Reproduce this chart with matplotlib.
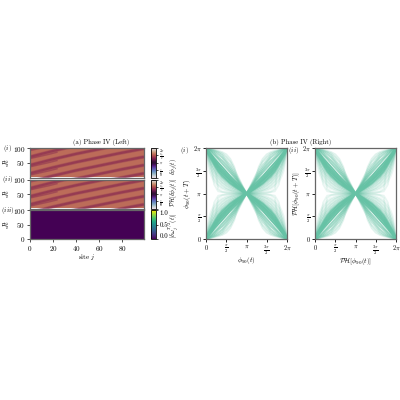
import numpy as np
import matplotlib
matplotlib.use("Agg")
import matplotlib.pyplot as plt
from matplotlib import cm
from matplotlib.colors import Normalize

plt.rcParams.update({"font.family": ["cmr10", "DejaVu Serif"], "mathtext.fontset": "cm",
                     "axes.unicode_minus": False, "axes.formatter.use_mathtext": True})

# heatmap background phase (rad), coarse table
phase_base = [[4.95, 4.95, 4.95, 4.95], [4.95, 4.95, 4.95, 4.95], [4.95, 4.95, 4.95, 4.95]]
# dark stripes: Jt at selected sites
stripe_sites = [0, 10, 20, 40, 60, 80, 99]
stripe_jt = [
    [-75, -62, -50, -32, -16, 0, 14],
    [-44, -33, -22, -4, 12, 28, 42],
    [-14, -4, 6, 24, 40, 56, 70],
    [14, 24, 34, 52, 68, 84, 98],
    [42, 52, 62, 80, 96, 112, 126],
    [70, 80, 90, 108, 124, 140, 154],
    [98, 108, 118, 136, 152, 168, 182],
]
# fine stripes near the left edge
fine_sites = [0, 8, 16, 24]
fine_jt = [
    [8, 15, 22, 30],
    [36, 43, 50, 58],
    [64, 71, 78, 86],
    [91, 98, 105, 113],
]
stripe_phase = 4.1
zero_field = [[0.0, 0.0], [0.0, 0.0]]

# return map curves on the half range, in units of pi
map_x = [0, .04, .08, .13, .2, .3, .4, .5, .6, .7, .8, .9, 1]
map_curves = [
    [0, .30, .50, .62, .74, .84, .90, .94, .96, .98, .99, .995, 1],
    [0, .10, .20, .42, .80, .95, .97, .98, .985, .99, .99, .995, 1],
    [0, .05, .10, .18, .30, .90, .96, .98, .985, .99, .99, .995, 1],
    [0, .22, .40, .54, .68, .80, .87, .91, .94, .96, .98, .99, 1],
    [0, .18, .32, .46, .60, .73, .82, .88, .92, .95, .97, .99, 1],
    [0, .14, .26, .38, .52, .66, .76, .83, .88, .92, .95, .98, 1],
    [0, .12, .22, .33, .46, .60, .70, .78, .84, .89, .93, .97, 1],
    [0, .10, .18, .27, .39, .54, .65, .73, .80, .86, .91, .96, 1],
    [0, .09, .16, .25, .36, .51, .62, .70, .78, .84, .90, .95, 1],
    [0, .08, .15, .23, .34, .48, .59, .68, .76, .83, .89, .95, 1],
    [0, .07, .13, .20, .30, .44, .55, .64, .72, .80, .87, .94, 1],
    [0, .06, .12, .18, .27, .40, .51, .61, .70, .78, .86, .93, 1],
    [0, .05, .10, .16, .25, .37, .47, .57, .66, .75, .84, .92, 1],
    [0, .04, .09, .14, .22, .32, .42, .52, .62, .71, .80, .90, 1],
    [0, .02, .05, .09, .15, .24, .34, .44, .54, .65, .77, .88, 1],
    [0, .02, .04, .07, .11, .20, .28, .38, .49, .61, .74, .87, 1],
    [0, .015, .03, .05, .08, .14, .21, .32, .44, .57, .72, .86, 1],
    [0, .01, .02, .04, .06, .10, .16, .27, .38, .53, .69, .85, 1],
    [0, .01, .015, .03, .05, .08, .12, .20, .30, .47, .65, .83, 1],
    [0, .005, .01, .02, .04, .06, .09, .14, .24, .42, .75, .94, 1],
]
map_alpha = [.12, .15, .15, .2, .28, .35, .4, .55, .75, .85, .95, .95, .95, .95, .65, .6, .5, .4, .3, .2]
teal = "#66c2a5"
frame = "#666666"


def fp(x0, y0, x1, y1):
    return [x0 / 400, 1 - y1 / 400, (x1 - x0) / 400, (y1 - y0) / 400]


fig = plt.figure(figsize=(4, 4), dpi=100)
norm = Normalize(0, 2 * np.pi)
rows = [(148, 177.5), (179.5, 208.5), (210, 239)]
tags = ["$(i)$", "$(ii)$", "$(iii)$"]
cb_labels = [r"$\delta\phi_j(t)$", r"$\mathcal{PH}[\delta\phi_j(t)]$", r"$|\delta\omega_j^{T/2}(t)|$"]
pi_ticks = [0, np.pi / 2, np.pi, 3 * np.pi / 2, 2 * np.pi]
pi_labels = ["$0$", r"$\frac{\pi}{2}$", r"$\pi$", r"$\frac{3\pi}{2}$", r"$2\pi$"]
cb_label_y = [167, 192, 225]

for k, (top, bot) in enumerate(rows):
    ax = fig.add_axes(fp(30, top, 144, bot))
    if k < 2:
        ax.imshow(phase_base, cmap="twilight", norm=norm, aspect="auto", origin="lower",
                  extent=[0, 99, 0, 100], interpolation="bilinear")
        col = cm.twilight(norm(stripe_phase))
        for jt in stripe_jt:
            ax.plot(stripe_sites, jt, color=col, lw=2.6, alpha=.3, solid_capstyle="butt")
            ax.plot(stripe_sites, jt, color=col, lw=1.6, alpha=.55, solid_capstyle="butt")
        for jt in fine_jt:
            ax.plot(fine_sites, jt, color=col, lw=1.0, alpha=.45, solid_capstyle="butt")
        im = cm.ScalarMappable(norm=norm, cmap="twilight")
    else:
        im = ax.imshow(zero_field, cmap="viridis", vmin=0, vmax=1, aspect="auto", origin="lower",
                       extent=[0, 99, 0, 100])
    ax.set_xlim(0, 99)
    ax.set_ylim(0, 100)
    ax.set_yticks([0, 50, 100] if k == 2 else [50, 100])
    ax.tick_params(labelsize=5.2, length=2, width=.6, pad=1.5, color="#333333")
    ax.set_ylabel("$Jt$", fontsize=5.5)
    ax.yaxis.set_label_coords(-(30 - 11) / 114, .5)
    if k == 2:
        ax.set_xticks([0, 20, 40, 60, 80])
        ax.set_xlabel("site $j$", fontsize=5, labelpad=-.5)
    else:
        ax.set_xticks([])
    for s in ax.spines.values():
        s.set_color(frame)
        s.set_linewidth(.9)
    fig.text(7.5 / 400, 1 - (top + .5) / 400, tags[k], fontsize=5, ha="center", va="center")
    cax = fig.add_axes(fp(151, top, 156, bot))
    cb = fig.colorbar(im, cax=cax)
    cb.outline.set_linewidth(.6)
    cb.ax.tick_params(length=1.5, width=.5, pad=1)
    if k < 2:
        cb.set_ticks(pi_ticks)
        cb.set_ticklabels(pi_labels, fontsize=2.8)
    else:
        cb.set_ticks([0, .5, 1])
        cb.set_ticklabels(["0.0", "0.5", "1.0"], fontsize=5)
    tick_texts = cb.ax.get_yticklabels()
    tick_texts[0].set_va("bottom")
    tick_texts[-1].set_va("top")
    fig.text(174 / 400, 1 - cb_label_y[k] / 400, cb_labels[k], rotation=90, fontsize=4.4,
             ha="center", va="center")

fig.text(101 / 400, 1 - 142.5 / 400, "(a) Phase IV (Left)", fontsize=4.8, ha="center", va="center")
fig.text(301 / 400, 1 - 142.5 / 400, "(b) Phase IV (Right)", fontsize=4.8, ha="center", va="center")

panels = [(206, 287, r"$\phi_{90}(t)$", r"$\phi_{90}(t+T)$", "$(i)$", 185),
          (315, 396, r"$\mathcal{PH}[\phi_{90}(t)]$", r"$\mathcal{PH}[\phi_{90}(t+T)]$", "$(ii)$", 294)]
map_x_arr = np.array(map_x)
for x0, x1, xl, yl, tag, tx in panels:
    ax = fig.add_axes(fp(x0, 148, x1, 239))
    for curve, a in zip(map_curves, map_alpha):
        y = np.array(curve)
        full_x = np.concatenate([map_x_arr, 2 - map_x_arr[-2::-1]]) * np.pi
        rise = np.concatenate([y, 2 - y[-2::-1]]) * np.pi
        ax.plot(full_x, rise, color=teal, lw=1.3, alpha=a)
        ax.plot(full_x, 2 * np.pi - rise, color=teal, lw=1.3, alpha=a)
    ax.set_xlim(0, 2 * np.pi)
    ax.set_ylim(0, 2 * np.pi)
    ax.set_xticks(pi_ticks, pi_labels)
    ax.set_yticks(pi_ticks, pi_labels)
    ax.tick_params(labelsize=4.5, length=2, width=.6, pad=1)
    ax.set_xlabel(xl, fontsize=5, labelpad=-1.5)
    ax.set_ylabel(yl, fontsize=5, labelpad=0)
    for s in ax.spines.values():
        s.set_color(frame)
        s.set_linewidth(.9)
    fig.text(tx / 400, 1 - 150.5 / 400, tag, fontsize=5, ha="center", va="center")

fig.savefig("out.png", dpi=100)
